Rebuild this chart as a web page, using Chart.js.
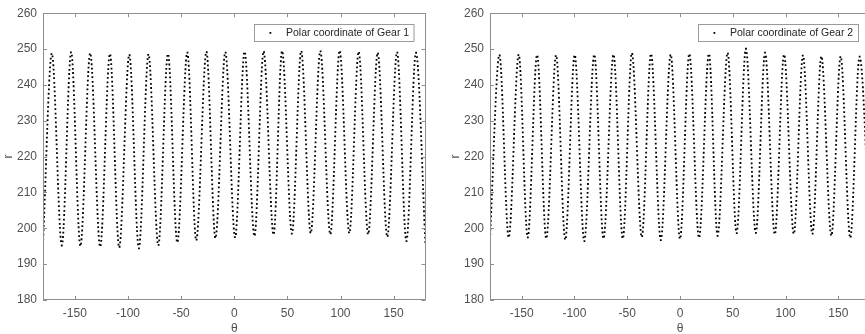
<!DOCTYPE html>
<html>
<head>
<meta charset="utf-8">
<script src="https://cdn.jsdelivr.net/npm/chart.js@4.4.0/dist/chart.umd.min.js"></script>
<style>
  html, body { margin: 0; padding: 0; background: #fff; overflow: hidden; }
  body { width: 865px; height: 334px; position: relative; }
  .panel { position: absolute; top: 0; height: 334px; }
  #p1 { left: 0; width: 430px; }
  #p2 { left: 447px; width: 428px; }
</style>
</head>
<body>
<div class="panel" id="p1"><canvas id="gear1"></canvas></div>
<div class="panel" id="p2"><canvas id="gear2"></canvas></div>
<script>
// --- DATA (alternating root / tip points) ---
const thetaTicks = [-150, -100, -50, 0, 50, 100, 150];
const rTicks = [180, 190, 200, 210, 220, 230, 240, 250, 260];

const gear1Theta = [-180, -171.7, -162.3, -153.5, -144.8, -135.6, -126.2, -117.0, -108.3, -98.8,
  -89.8, -80.7, -71.5, -62.4, -53.6, -44.2, -35.8, -26.2, -17.7, -8.4,
  0.8, 9.7, 19.0, 27.6, 37.0, 45.0, 54.3, 63.0, 72.0, 81.0,
  90.4, 99.2, 108.3, 117.1, 126.0, 135.0, 144.0, 153.2, 162.0, 171.0, 180];
const gear1R = [195.8, 248.8, 195.2, 249.2, 195.0, 248.9, 194.8, 248.7, 194.6, 248.5,
  194.4, 248.6, 195.2, 248.7, 196.0, 249.1, 196.6, 249.3, 197.2, 249.2,
  197.4, 249.3, 197.8, 249.4, 198.2, 249.5, 198.5, 249.5, 198.6, 249.5,
  198.3, 249.6, 198.6, 249.3, 198.3, 249.0, 197.6, 249.2, 196.4, 249.0, 195.2];

const gear2Theta = [-180, -171.1, -162.3, -152.8, -144.3, -135.4, -126.7, -117.4, -108.7, -99.8,
  -90.7, -81.2, -72.5, -63.0, -54.2, -45.6, -36.2, -27.5, -18.2, -8.8,
  0.0, 8.8, 18.0, 27.4, 35.6, 45.1, 53.6, 62.4, 71.8, 80.6,
  89.8, 98.6, 107.8, 116.5, 125.4, 133.9, 143.4, 152.2, 161.3, 170.1, 180];
const gear2R = [197.2, 248.4, 197.4, 248.5, 197.4, 248.4, 197.1, 248.3, 196.8, 248.4,
  196.4, 248.5, 197.1, 248.5, 197.1, 248.9, 197.5, 248.7, 196.7, 248.5,
  197.0, 248.7, 197.3, 248.7, 197.9, 249.0, 198.6, 250.1, 198.7, 249.0,
  198.3, 248.5, 198.4, 248.3, 198.4, 248.0, 197.9, 248.0, 197.3, 247.9, 197.0];

const FONT = "'Liberation Sans', Arial, sans-serif";
const TEXT = '#505050';
const AXIS = '#8e8e8e';

// box around the plot, inward ticks on all sides, MATLAB-like legend
const framePlugin = {
  id: 'frame',
  afterDraw(chart) {
    const { ctx, chartArea: a, scales } = chart;
    ctx.save();
    ctx.strokeStyle = AXIS;
    ctx.lineWidth = 1;
    ctx.strokeRect(Math.round(a.left) + 0.5, Math.round(a.top) + 0.5,
      Math.round(a.right - a.left) - 1, Math.round(a.bottom - a.top) - 1);
    ctx.beginPath();
    scales.x.ticks.forEach(t => {
      const px = Math.round(scales.x.getPixelForValue(t.value)) + 0.5;
      ctx.moveTo(px, a.bottom); ctx.lineTo(px, a.bottom - 4);
      ctx.moveTo(px, a.top); ctx.lineTo(px, a.top + 4);
    });
    scales.y.ticks.forEach(t => {
      const py = Math.round(scales.y.getPixelForValue(t.value)) + 0.5;
      ctx.moveTo(a.left, py); ctx.lineTo(a.left + 4, py);
      ctx.moveTo(a.right, py); ctx.lineTo(a.right - 4, py);
    });
    ctx.stroke();

    // legend
    const label = chart.data.datasets[0].label;
    ctx.font = '10.5px ' + FONT;
    const w = ctx.measureText(label).width;
    const right = a.right - 11.5;
    const left = Math.round(right - w - 37) + 0.5;
    const top = Math.round(a.top + 11) + 0.5;
    ctx.fillStyle = '#fff';
    ctx.fillRect(left, top, right - left, 17);
    ctx.strokeStyle = '#9a9a9a';
    ctx.strokeRect(left, top, right - left, 17);
    ctx.fillStyle = '#000';
    ctx.fillRect(left + 15, top + 7.5, 1.8, 1.8);
    ctx.fillStyle = '#262626';
    ctx.textBaseline = 'middle';
    ctx.fillText(label, left + 31.5, top + 9);
    ctx.restore();
  }
};

function makeChart(id, label, thetas, rs, padRight) {
  const points = thetas.map((t, i) => ({ x: t, y: rs[i] }));
  return new Chart(document.getElementById(id), {
    type: 'scatter',
    data: {
      datasets: [{
        label: label,
        data: points,
        showLine: true,
        cubicInterpolationMode: 'monotone',
        borderColor: '#000',
        borderWidth: 1.8,
        borderDash: [0, 4.4],
        borderCapStyle: 'square',
        pointRadius: 0,
        fill: false
      }]
    },
    options: {
      responsive: true,
      maintainAspectRatio: false,
      devicePixelRatio: 1,
      animation: false,
      layout: { padding: { top: 10, right: padRight, left: 0, bottom: 0 } },
      plugins: { legend: { display: false }, tooltip: { enabled: false } },
      scales: {
        x: {
          type: 'linear',
          min: -180,
          max: 180,
          afterBuildTicks: s => { s.ticks = thetaTicks.map(v => ({ value: v })); },
          afterFit: s => { s.height = 34; },
          grid: { display: false, drawTicks: false },
          border: { display: false },
          ticks: { color: TEXT, font: { family: FONT, size: 12 }, padding: 6, maxRotation: 0, autoSkip: false },
          title: { display: true, text: 'θ', color: TEXT, font: { family: FONT, size: 12 }, padding: { top: 0, bottom: -1.5 } }
        },
        y: {
          min: 180,
          max: 260,
          afterBuildTicks: s => { s.ticks = rTicks.map(v => ({ value: v })); },
          afterFit: s => { s.width = 43; },
          grid: { display: false, drawTicks: false },
          border: { display: false },
          ticks: { color: TEXT, font: { family: FONT, size: 12 }, padding: 6, autoSkip: false },
          title: { display: true, text: 'r', color: TEXT, font: { family: FONT, size: 12 }, padding: 1 }
        }
      }
    },
    plugins: [framePlugin]
  });
}

makeChart('gear1', 'Polar coordinate of Gear 1', gear1Theta, gear1R, 4.5);
makeChart('gear2', 'Polar coordinate of Gear 2', gear2Theta, gear2R, 5);
</script>
</body>
</html>
